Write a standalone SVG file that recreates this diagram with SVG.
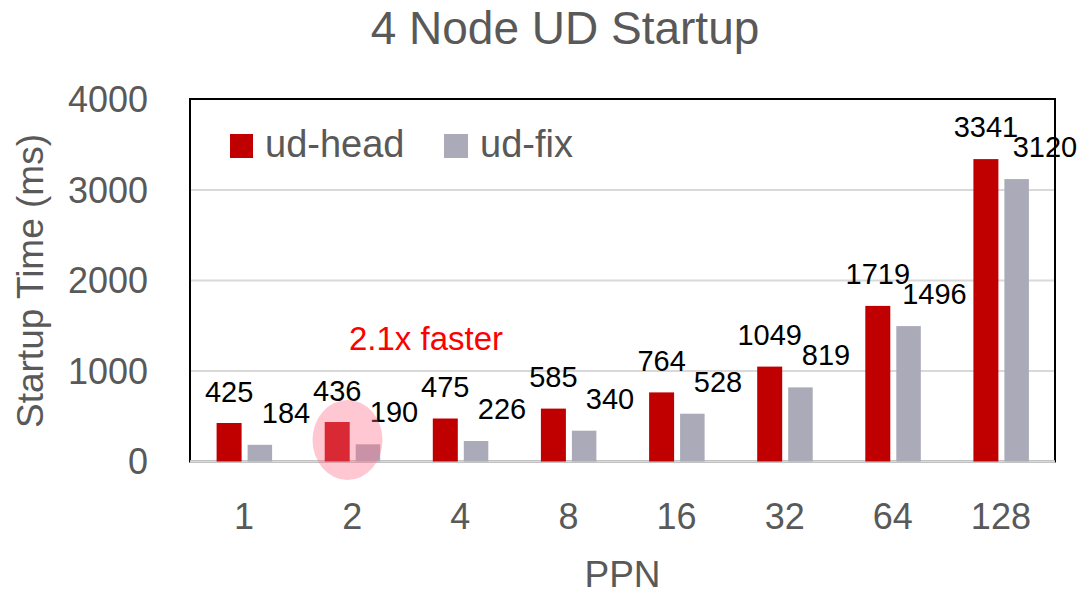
<svg xmlns="http://www.w3.org/2000/svg" width="1082" height="593" viewBox="0 0 1082 593">
  <style>
    text { font-family: "Liberation Sans", Arial, sans-serif; }
    .title { font-size: 46px; fill: #595959; text-anchor: middle; }
    .tick { font-size: 36px; fill: #595959; }
    .ytick { text-anchor: end; }
    .xtick { text-anchor: middle; }
    .axis-title { font-size: 37px; fill: #595959; text-anchor: middle; }
    .legend { font-size: 38px; fill: #595959; }
    .val { font-size: 29px; fill: #000000; text-anchor: middle; }
    .note { font-size: 33px; fill: #FF0000; }
    .grid { stroke: #D9D9D9; stroke-width: 2; }
    .head { fill: #C00000; }
    .fix { fill: #AAAAB9; }
  </style>

  <rect width="1082" height="593" fill="#FFFFFF"/>

  <!-- title -->
  <text class="title" x="565" y="44">4 Node UD Startup</text>

  <!-- plot frame and gridlines -->
  <g id="plot-area">
    <line class="grid" x1="190" y1="371" x2="1055" y2="371"/>
    <line class="grid" x1="190" y1="280.5" x2="1055" y2="280.5"/>
    <line class="grid" x1="190" y1="190" x2="1055" y2="190"/>
    <rect x="190" y="99" width="865" height="362.5" fill="none" stroke="#000000" stroke-width="2"/>
    <line x1="190" y1="461.5" x2="1055" y2="461.5" stroke="#D9D9D9" stroke-width="2.5"/>
  </g>

  <!-- y axis -->
  <g id="y-axis">
    <text class="tick ytick" x="148" y="474">0</text>
    <text class="tick ytick" x="148" y="384">1000</text>
    <text class="tick ytick" x="148" y="293">2000</text>
    <text class="tick ytick" x="148" y="203">3000</text>
    <text class="tick ytick" x="148" y="112">4000</text>
    <text class="axis-title" transform="translate(43,281) rotate(-90)">Startup Time (ms)</text>
  </g>

  <!-- x axis -->
  <g id="x-axis">
    <text class="tick xtick" x="244.1" y="529">1</text>
    <text class="tick xtick" x="352.2" y="529">2</text>
    <text class="tick xtick" x="460.3" y="529">4</text>
    <text class="tick xtick" x="568.4" y="529">8</text>
    <text class="tick xtick" x="676.6" y="529">16</text>
    <text class="tick xtick" x="784.7" y="529">32</text>
    <text class="tick xtick" x="892.8" y="529">64</text>
    <text class="tick xtick" x="1000.9" y="529">128</text>
    <text class="axis-title" x="622.5" y="587">PPN</text>
  </g>

  <!-- legend -->
  <g id="legend">
    <rect class="head" x="230" y="134" width="23" height="24"/>
    <text class="legend" x="265" y="157">ud-head</text>
    <rect class="fix" x="444" y="134" width="24" height="24"/>
    <text class="legend" x="480" y="157">ud-fix</text>
  </g>

  <!-- bars: y = 461.5 - v*0.0905 -->
  <g id="ppn-1">
    <rect class="head" x="216.6" y="423.0" width="25" height="38.5"/>
    <rect class="fix" x="247.6" y="444.8" width="24.5" height="16.7"/>
    <text class="val" x="229.1" y="402">425</text>
    <text class="val" x="286" y="423">184</text>
  </g>
  <g id="ppn-2">
    <rect class="head" x="324.7" y="422.0" width="25" height="39.5"/>
    <rect class="fix" x="355.7" y="444.3" width="24.5" height="17.2"/>
    <text class="val" x="337.2" y="401">436</text>
    <text class="val" x="394" y="422">190</text>
  </g>
  <g id="ppn-4">
    <rect class="head" x="432.8" y="418.5" width="25" height="43"/>
    <rect class="fix" x="463.8" y="441.0" width="24.5" height="20.5"/>
    <text class="val" x="445.3" y="397">475</text>
    <text class="val" x="502" y="419">226</text>
  </g>
  <g id="ppn-8">
    <rect class="head" x="540.9" y="408.6" width="25" height="52.9"/>
    <rect class="fix" x="571.9" y="430.7" width="24.5" height="30.8"/>
    <text class="val" x="553.4" y="387">585</text>
    <text class="val" x="610" y="409">340</text>
  </g>
  <g id="ppn-16">
    <rect class="head" x="649.1" y="392.4" width="25" height="69.1"/>
    <rect class="fix" x="680.1" y="413.7" width="24.5" height="47.8"/>
    <text class="val" x="661.6" y="371">764</text>
    <text class="val" x="718" y="392">528</text>
  </g>
  <g id="ppn-32">
    <rect class="head" x="757.2" y="366.6" width="25" height="94.9"/>
    <rect class="fix" x="788.2" y="387.4" width="24.5" height="74.1"/>
    <text class="val" x="769.7" y="345">1049</text>
    <text class="val" x="826" y="365">819</text>
  </g>
  <g id="ppn-64">
    <rect class="head" x="865.3" y="305.9" width="25" height="155.6"/>
    <rect class="fix" x="896.3" y="326.1" width="24.5" height="135.4"/>
    <text class="val" x="877.8" y="284">1719</text>
    <text class="val" x="934.5" y="304">1496</text>
  </g>
  <g id="ppn-128">
    <rect class="head" x="973.4" y="159.1" width="25" height="302.4"/>
    <rect class="fix" x="1004.4" y="179.1" width="24.5" height="282.4"/>
    <text class="val" x="985.9" y="137">3341</text>
    <text class="val" x="1045" y="157">3120</text>
  </g>

  <!-- callout: highlight on PPN 2 -->
  <g id="callout">
    <ellipse cx="347.5" cy="440" rx="35" ry="40" fill="#FF6B8A" fill-opacity="0.38"/>
    <text class="note" x="349" y="350">2.1x faster</text>
  </g>
</svg>
